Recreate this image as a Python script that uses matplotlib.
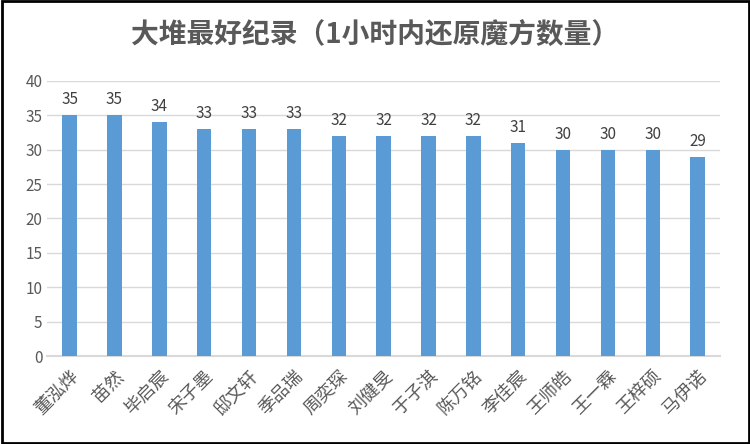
import matplotlib.pyplot as plt

names = ["董泓烨", "苗然", "毕启宸", "宋子墨", "邸文轩", "季品瑞", "周奕琛", "刘健旻",
         "于子淇", "陈万铭", "李佳宸", "王师皓", "王一霖", "王梓硕", "马伊诺"]
scores = [35, 35, 34, 33, 33, 33, 32, 32, 32, 32, 31, 30, 30, 30, 29]

plt.rcParams["font.family"] = ["Noto Sans CJK SC", "DejaVu Sans"]
fig = plt.figure(figsize=(7.5, 4.44), dpi=100)
ax = fig.add_axes([0.063, 0.198, 0.897, 0.62])
x = range(len(names))
bars = ax.bar(x, scores, width=0.32, color="#5b9bd5", zorder=3)
for b, v in zip(bars, scores):
    ax.text(b.get_x() + b.get_width() / 2, v + 1, str(v), ha="center", va="bottom",
            fontsize=11, color="#404040")
ax.set_ylim(0, 40)
ax.set_xlim(-0.5, len(names) - 0.5)
ax.set_yticks(range(0, 41, 5))
ax.set_xticks(list(x))
ax.set_xticklabels(names, rotation=45, ha="right", rotation_mode="anchor",
                   fontsize=13, color="#595959")
ax.tick_params(axis="y", labelsize=11, labelcolor="#595959", length=0)
ax.tick_params(axis="x", length=0, pad=8)
ax.grid(axis="y", color="#d9d9d9", linewidth=1, zorder=0)
for s in ["top", "right", "left"]:
    ax.spines[s].set_visible(False)
ax.spines["bottom"].set_color("#d9d9d9")
ax.spines["bottom"].set_linewidth(1.5)
fig.text(0.5, 0.92, "大堆最好纪录（1小时内还原魔方数量）", ha="center", va="center",
         fontsize=20, fontweight="bold", color="#595959")
fig.patches.append(plt.Rectangle((0.002, 0.003), 0.996, 0.994, transform=fig.transFigure,
                                 fill=False, edgecolor="black", linewidth=2))
fig.savefig("out.png", dpi=100)
